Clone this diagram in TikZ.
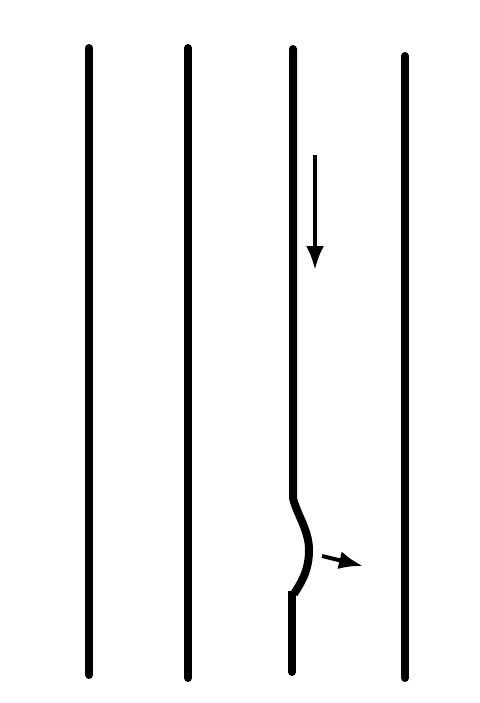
\documentclass[tikz,border=0pt]{standalone}
\usepackage{tikz}
\usetikzlibrary{arrows.meta}

\tikzset{
    wall/.style={line width=8pt, line cap=round, black},
    flow/.style={line width=4pt, -{Latex[length=24pt, width=18pt]}, black}
}

\begin{document}
\begin{tikzpicture}[x=1pt, y=-1pt]
    \useasboundingbox (0, 0) rectangle (479, 703);
    \begin{scope}
        % Straight walls
        \draw[wall] (89, 48) -- (89, 675);
        \draw[wall] (188, 48) -- (188, 678);
        \draw[wall] (405, 56) -- (405, 678);
        % Wall with the bulge
        \coordinate (top) at (293, 49);
        \coordinate (kinkA) at (293, 498);
        \coordinate (bulge) at (309, 550);
        \coordinate (kinkB) at (294, 594);
        \coordinate (bottom) at (292, 672);
        \draw[wall, line cap=butt] (top) -- (kinkA)
            .. controls (297, 515) and (309, 530) .. (bulge)
            .. controls (309, 572) and (300, 584) .. (kinkB);
        \draw[wall, line cap=butt] (292, 591) -- (bottom);
        \fill (top) circle (4pt);
        \fill (bottom) circle (4pt);
    \end{scope}
    \begin{scope}
        % Flow arrows
        \coordinate (downStart) at (315, 155);
        \coordinate (downEnd) at (315, 270);
        \draw[flow] (downStart) -- (downEnd);
        \coordinate (pushStart) at (322, 556);
        \coordinate (pushEnd) at (363, 566);
        \draw[flow] (pushStart) -- (pushEnd);
    \end{scope}
\end{tikzpicture}
\end{document}
